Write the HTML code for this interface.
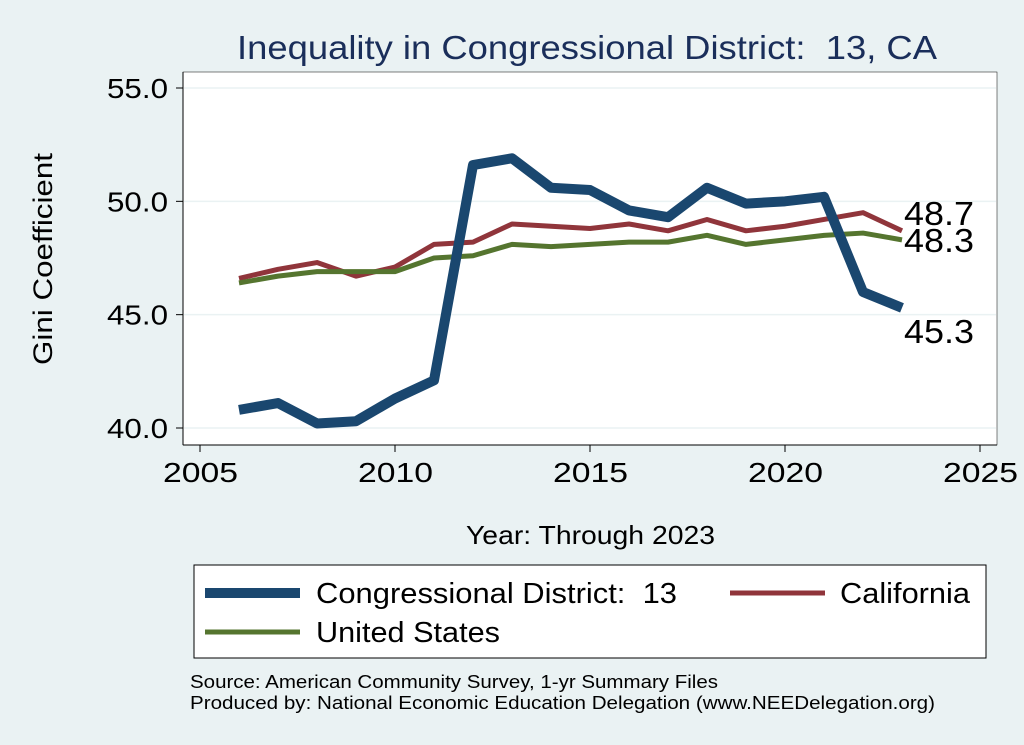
<!DOCTYPE html>
<html><head><meta charset="utf-8"><style>
body{margin:0;background:#eaf2f3;font-family:"Liberation Sans",sans-serif}
svg{display:block}
text{white-space:pre}
</style></head><body>
<svg width="1024" height="745" xmlns="http://www.w3.org/2000/svg" xml:space="preserve">
<rect x="0" y="0" width="1024" height="745" fill="#eaf2f3"/>
<text x="237" y="59" font-size="33" fill="#1a2e5a" textLength="700" lengthAdjust="spacingAndGlyphs">Inequality in Congressional District:  13, CA</text>
<rect x="183" y="72" width="814" height="373" fill="#fff" stroke="#000" stroke-width="0.5"/>
<g id="axes"></g>
<g id="series"></g>
<text x="52" y="259" font-size="27" text-anchor="middle" textLength="212" lengthAdjust="spacingAndGlyphs" transform="rotate(-90 52 259)">Gini Coefficient</text>
<text x="466" y="544" font-size="26" textLength="249" lengthAdjust="spacingAndGlyphs">Year: Through 2023</text>
<g>
<rect x="194" y="565" width="792" height="93" fill="#fff" stroke="#000" stroke-width="1"/>
<line x1="205" y1="593" x2="300" y2="593" stroke="#1a476f" stroke-width="10"/>
<text x="316" y="603" font-size="29" textLength="361" lengthAdjust="spacingAndGlyphs">Congressional District:  13</text>
<line x1="730" y1="593" x2="825" y2="593" stroke="#90353b" stroke-width="5"/>
<text x="840" y="603" font-size="29" textLength="130" lengthAdjust="spacingAndGlyphs">California</text>
<line x1="205" y1="632" x2="300" y2="632" stroke="#55752f" stroke-width="5"/>
<text x="316" y="642" font-size="29" textLength="184" lengthAdjust="spacingAndGlyphs">United States</text>
</g>
<text x="190" y="688" font-size="18" textLength="528" lengthAdjust="spacingAndGlyphs">Source: American Community Survey, 1-yr Summary Files</text>
<text x="190" y="709" font-size="18" textLength="745" lengthAdjust="spacingAndGlyphs">Produced by: National Economic Education Delegation (www.NEEDelegation.org)</text>
</svg>
<script>
const years=[2006,2007,2008,2009,2010,2011,2012,2013,2014,2015,2016,2017,2018,2019,2020,2021,2022,2023];
const district=[40.8,41.1,40.2,40.3,41.3,42.1,51.6,51.9,50.6,50.5,49.6,49.3,50.6,49.9,50.0,50.2,46.0,45.3];
const california=[46.6,47.0,47.3,46.7,47.1,48.1,48.2,49.0,48.9,48.8,49.0,48.7,49.2,48.7,48.9,49.2,49.5,48.7];
const us=[46.4,46.7,46.9,46.9,46.9,47.5,47.6,48.1,48.0,48.1,48.2,48.2,48.5,48.1,48.3,48.5,48.6,48.3];
const xTicks=[2005,2010,2015,2020,2025];
const yTicks=[40,45,50,55];
const yTickLabels=["40.0","45.0","50.0","55.0"];
const NS="http://www.w3.org/2000/svg";
const X=v=>200+(v-2005)*39;
const Y=v=>428-(v-40)*22.6667;
function mk(t,a,p){const e=document.createElementNS(NS,t);for(const k in a)e.setAttribute(k,a[k]);p.appendChild(e);return e;}
const ax=document.getElementById('axes');
yTicks.forEach(v=>{
 const g=mk('line',{x1:184,x2:996,y1:Y(v),y2:Y(v),stroke:'#eaf2f3','stroke-width':1.5},ax);
 
 
});
mk('line',{x1:183,y1:72,x2:183,y2:445,stroke:'#000'},ax);
mk('line',{x1:183,y1:445,x2:997,y2:445,stroke:'#000'},ax);
yTicks.forEach((v,i)=>{
 const l=mk('line',{x1:176,x2:183,y1:Y(v),y2:Y(v),stroke:'#000'},ax);
 
 
 const t=mk('text',{x:107,y:Y(v)+10,'font-size':28,textLength:61,lengthAdjust:'spacingAndGlyphs'},ax);
 t.textContent=yTickLabels[i];
 
 
});
xTicks.forEach(v=>{
 const l=mk('line',{x1:X(v),x2:X(v),y1:445,y2:452,stroke:'#000'},ax);
 
 
 const t=mk('text',{x:X(v)-37,y:482,'font-size':28,textLength:75,lengthAdjust:'spacingAndGlyphs'},ax);
 t.textContent=v;
 
 
});
const sg=document.getElementById('series');
function line(vals,color,w,name){
 const p=mk('polyline',{points:vals.map((v,i)=>X(years[i])+','+Y(v)).join(' '),fill:'none',stroke:color,'stroke-width':w,'stroke-linejoin':'round'},sg);
 
 
}
line(california,'#90353b',5,'line-california');
line(us,'#55752f',5,'line-united-states');
line(district,'#1a476f',10,'line-district-13');
const n=years.length-1;
function lab(v,dy,name){
 const t=mk('text',{x:X(years[n])+2,y:Y(v)+dy,'font-size':33,textLength:70,lengthAdjust:'spacingAndGlyphs'},sg);
 t.textContent=v.toFixed(1);
 
 
}
lab(california[n],-6,'label-california-last');
lab(us[n],12,'label-us-last');
lab(district[n],35,'label-district-last');
</script>
</body></html>
